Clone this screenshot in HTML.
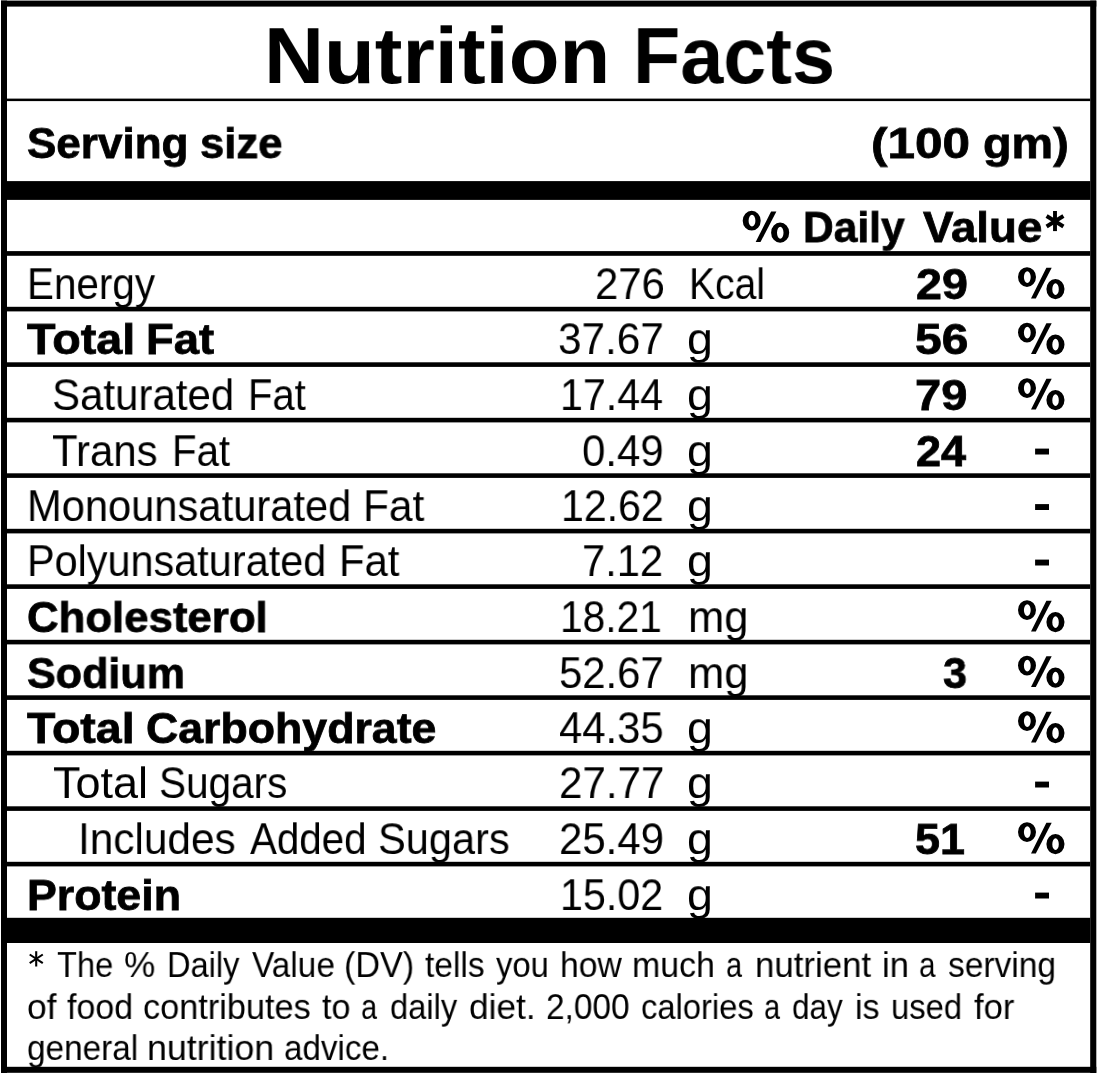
<!DOCTYPE html>
<html><head><meta charset="utf-8"><title>Nutrition Facts</title>
<style>
html,body{margin:0;padding:0;background:#fff;}
body{width:1098px;height:1078px;position:relative;overflow:hidden;}
.t{position:absolute;white-space:pre;line-height:1;font-family:"Liberation Sans",sans-serif;color:#000;transform-origin:0 0;font-weight:normal;-webkit-font-smoothing:antialiased;will-change:transform;}
.b{font-weight:bold;}
svg{position:absolute;left:0;top:0;}
</style></head><body>
<svg width="1098" height="1078" viewBox="0 0 1098 1078" fill="#000">
<rect x="1.00" y="0.60" width="6.00" height="1072.40"/>
<rect x="1090.20" y="0.60" width="6.10" height="1072.40"/>
<rect x="1.00" y="0.60" width="1095.30" height="6.00"/>
<rect x="1.00" y="1066.80" width="1095.30" height="6.00"/>
<rect x="7.00" y="98.60" width="1083.20" height="2.50"/>
<rect x="7.00" y="181.10" width="1083.20" height="18.80"/>
<rect x="7.00" y="251.10" width="1083.20" height="4.70"/>
<rect x="7.00" y="306.80" width="1083.20" height="4.60"/>
<rect x="7.00" y="362.30" width="1083.20" height="4.60"/>
<rect x="7.00" y="417.80" width="1083.20" height="4.60"/>
<rect x="7.00" y="473.30" width="1083.20" height="4.60"/>
<rect x="7.00" y="528.80" width="1083.20" height="4.60"/>
<rect x="7.00" y="584.30" width="1083.20" height="4.60"/>
<rect x="7.00" y="639.80" width="1083.20" height="4.60"/>
<rect x="7.00" y="695.30" width="1083.20" height="4.60"/>
<rect x="7.00" y="750.80" width="1083.20" height="4.60"/>
<rect x="7.00" y="806.30" width="1083.20" height="4.60"/>
<rect x="7.00" y="861.80" width="1083.20" height="4.60"/>
<rect x="7.00" y="917.80" width="1083.20" height="25.20"/>
<rect x="1035.10" y="448.60" width="13.90" height="5.90"/>
<rect x="1035.10" y="504.10" width="13.90" height="5.90"/>
<rect x="1035.10" y="559.60" width="13.90" height="5.90"/>
<rect x="1035.10" y="781.60" width="13.90" height="5.90"/>
<rect x="1035.10" y="892.60" width="13.90" height="5.90"/>
<path fill-rule="evenodd" d="M1018.00 277.10a9.00 9.90 0 1 0 18.00 0a9.00 9.90 0 1 0 -18.00 0ZM1023.90 277.10a3.40 5.90 0 1 0 6.80 0a3.40 5.90 0 1 0 -6.80 0ZM1046.40 289.05a9.05 10.05 0 1 0 18.10 0a9.05 10.05 0 1 0 -18.10 0ZM1052.30 289.15a3.25 5.95 0 1 0 6.50 0a3.25 5.95 0 1 0 -6.50 0Z"/>
<path d="M1031.00 298.50L1035.80 298.50L1051.70 267.80L1046.40 267.80Z"/>
<path fill-rule="evenodd" d="M1018.00 332.60a9.00 9.90 0 1 0 18.00 0a9.00 9.90 0 1 0 -18.00 0ZM1023.90 332.60a3.40 5.90 0 1 0 6.80 0a3.40 5.90 0 1 0 -6.80 0ZM1046.40 344.55a9.05 10.05 0 1 0 18.10 0a9.05 10.05 0 1 0 -18.10 0ZM1052.30 344.65a3.25 5.95 0 1 0 6.50 0a3.25 5.95 0 1 0 -6.50 0Z"/>
<path d="M1031.00 354.00L1035.80 354.00L1051.70 323.30L1046.40 323.30Z"/>
<path fill-rule="evenodd" d="M1018.00 388.10a9.00 9.90 0 1 0 18.00 0a9.00 9.90 0 1 0 -18.00 0ZM1023.90 388.10a3.40 5.90 0 1 0 6.80 0a3.40 5.90 0 1 0 -6.80 0ZM1046.40 400.05a9.05 10.05 0 1 0 18.10 0a9.05 10.05 0 1 0 -18.10 0ZM1052.30 400.15a3.25 5.95 0 1 0 6.50 0a3.25 5.95 0 1 0 -6.50 0Z"/>
<path d="M1031.00 409.50L1035.80 409.50L1051.70 378.80L1046.40 378.80Z"/>
<path fill-rule="evenodd" d="M1018.00 610.10a9.00 9.90 0 1 0 18.00 0a9.00 9.90 0 1 0 -18.00 0ZM1023.90 610.10a3.40 5.90 0 1 0 6.80 0a3.40 5.90 0 1 0 -6.80 0ZM1046.40 622.05a9.05 10.05 0 1 0 18.10 0a9.05 10.05 0 1 0 -18.10 0ZM1052.30 622.15a3.25 5.95 0 1 0 6.50 0a3.25 5.95 0 1 0 -6.50 0Z"/>
<path d="M1031.00 631.50L1035.80 631.50L1051.70 600.80L1046.40 600.80Z"/>
<path fill-rule="evenodd" d="M1018.00 665.60a9.00 9.90 0 1 0 18.00 0a9.00 9.90 0 1 0 -18.00 0ZM1023.90 665.60a3.40 5.90 0 1 0 6.80 0a3.40 5.90 0 1 0 -6.80 0ZM1046.40 677.55a9.05 10.05 0 1 0 18.10 0a9.05 10.05 0 1 0 -18.10 0ZM1052.30 677.65a3.25 5.95 0 1 0 6.50 0a3.25 5.95 0 1 0 -6.50 0Z"/>
<path d="M1031.00 687.00L1035.80 687.00L1051.70 656.30L1046.40 656.30Z"/>
<path fill-rule="evenodd" d="M1018.00 721.10a9.00 9.90 0 1 0 18.00 0a9.00 9.90 0 1 0 -18.00 0ZM1023.90 721.10a3.40 5.90 0 1 0 6.80 0a3.40 5.90 0 1 0 -6.80 0ZM1046.40 733.05a9.05 10.05 0 1 0 18.10 0a9.05 10.05 0 1 0 -18.10 0ZM1052.30 733.15a3.25 5.95 0 1 0 6.50 0a3.25 5.95 0 1 0 -6.50 0Z"/>
<path d="M1031.00 742.50L1035.80 742.50L1051.70 711.80L1046.40 711.80Z"/>
<path fill-rule="evenodd" d="M1018.00 832.10a9.00 9.90 0 1 0 18.00 0a9.00 9.90 0 1 0 -18.00 0ZM1023.90 832.10a3.40 5.90 0 1 0 6.80 0a3.40 5.90 0 1 0 -6.80 0ZM1046.40 844.05a9.05 10.05 0 1 0 18.10 0a9.05 10.05 0 1 0 -18.10 0ZM1052.30 844.15a3.25 5.95 0 1 0 6.50 0a3.25 5.95 0 1 0 -6.50 0Z"/>
<path d="M1031.00 853.50L1035.80 853.50L1051.70 822.80L1046.40 822.80Z"/>
<path fill-rule="evenodd" d="M742.70 220.70a9.00 9.90 0 1 0 18.00 0a9.00 9.90 0 1 0 -18.00 0ZM748.60 220.70a3.40 5.90 0 1 0 6.80 0a3.40 5.90 0 1 0 -6.80 0ZM771.10 232.65a9.05 10.05 0 1 0 18.10 0a9.05 10.05 0 1 0 -18.10 0ZM777.00 232.75a3.25 5.95 0 1 0 6.50 0a3.25 5.95 0 1 0 -6.50 0Z"/>
<path d="M755.70 242.10L760.50 242.10L776.40 211.40L771.10 211.40Z"/>
<line x1="1055.00" y1="211.00" x2="1055.00" y2="231.10" stroke="#000" stroke-width="3.90"/>
<line x1="1046.60" y1="216.00" x2="1063.40" y2="226.50" stroke="#000" stroke-width="3.90"/>
<line x1="1046.60" y1="226.50" x2="1063.40" y2="216.00" stroke="#000" stroke-width="3.90"/>
<line x1="36.20" y1="951.20" x2="36.20" y2="966.50" stroke="#000" stroke-width="2.10"/>
<line x1="29.70" y1="954.50" x2="42.80" y2="963.20" stroke="#000" stroke-width="2.10"/>
<line x1="29.70" y1="963.20" x2="42.80" y2="954.50" stroke="#000" stroke-width="2.10"/>
</svg>
<div class="t b" style="left:263.61px;top:15px;font-size:80.1px;transform-origin:0 68px;transform:scale(1.0377,0.9955)">Nutrition</div>
<div class="t b" style="left:633.07px;top:15px;font-size:80.1px;transform-origin:0 68px;transform:scale(0.9652,0.9955)">Facts</div>
<div class="t b" style="left:26.70px;top:121px;font-size:44.0px;transform-origin:0 37px;transform:scale(1.0006,0.9631);-webkit-text-stroke:0.8px #000">Serving</div>
<div class="t b" style="left:200.11px;top:121px;font-size:44.0px;transform-origin:0 37px;transform:scale(0.9914,0.9631);-webkit-text-stroke:0.8px #000">size</div>
<div class="t b" style="left:870.78px;top:121px;font-size:44.0px;transform-origin:0 37px;transform:scale(1.1244,0.9631);-webkit-text-stroke:0.8px #000">(100</div>
<div class="t b" style="left:983.34px;top:121px;font-size:44.0px;transform-origin:0 37px;transform:scale(1.0628,0.9631);-webkit-text-stroke:0.8px #000">gm)</div>
<div class="t b" style="left:803.47px;top:205px;font-size:44.0px;transform-origin:0 37px;transform:scale(0.9663,0.9631);-webkit-text-stroke:0.8px #000">Daily</div>
<div class="t b" style="left:922.70px;top:205px;font-size:44.0px;transform-origin:0 37px;transform:scale(1.0377,0.9631);-webkit-text-stroke:0.8px #000">Value</div>
<div class="t" style="left:27.10px;top:261px;font-size:45px;transform-origin:0 38px;transform:scale(0.8986,0.9903)">Energy</div>
<div class="t" style="left:594.94px;top:261px;font-size:45px;transform-origin:0 38px;transform:scale(0.9310,0.9903)">276</div>
<div class="t" style="left:688.90px;top:261px;font-size:45px;transform-origin:0 38px;transform:scale(0.8683,0.9903)">Kcal</div>
<div class="t b" style="left:915.54px;top:262px;font-size:44.0px;transform-origin:0 37px;transform:scale(1.0596,0.9631);-webkit-text-stroke:0.8px #000">29</div>
<div class="t b" style="left:26.90px;top:317px;font-size:44.0px;transform-origin:0 37px;transform:scale(1.0616,0.9631);-webkit-text-stroke:0.8px #000">Total</div>
<div class="t b" style="left:146.33px;top:317px;font-size:44.0px;transform-origin:0 37px;transform:scale(1.0328,0.9631);-webkit-text-stroke:0.8px #000">Fat</div>
<div class="t" style="left:558.32px;top:316px;font-size:45px;transform-origin:0 38px;transform:scale(0.9404,0.9903)">37.67</div>
<div class="t" style="left:687.33px;top:316px;font-size:45px;transform-origin:0 38px;transform:scale(1.0350,0.9903)">g</div>
<div class="t b" style="left:914.71px;top:317px;font-size:44.0px;transform-origin:0 37px;transform:scale(1.0894,0.9631);-webkit-text-stroke:0.8px #000">56</div>
<div class="t" style="left:52.33px;top:372px;font-size:45px;transform-origin:0 38px;transform:scale(0.9342,0.9903)">Saturated</div>
<div class="t" style="left:248.23px;top:372px;font-size:45px;transform-origin:0 38px;transform:scale(0.8887,0.9903)">Fat</div>
<div class="t" style="left:560.15px;top:372px;font-size:45px;transform-origin:0 38px;transform:scale(0.9156,0.9903)">17.44</div>
<div class="t" style="left:687.33px;top:372px;font-size:45px;transform-origin:0 38px;transform:scale(1.0350,0.9903)">g</div>
<div class="t b" style="left:915.13px;top:373px;font-size:44.0px;transform-origin:0 37px;transform:scale(1.0702,0.9631);-webkit-text-stroke:0.8px #000">79</div>
<div class="t" style="left:52.17px;top:428px;font-size:45px;transform-origin:0 38px;transform:scale(0.9324,0.9903)">Trans</div>
<div class="t" style="left:171.72px;top:428px;font-size:45px;transform-origin:0 38px;transform:scale(0.8935,0.9903)">Fat</div>
<div class="t" style="left:582.17px;top:428px;font-size:45px;transform-origin:0 38px;transform:scale(0.9329,0.9903)">0.49</div>
<div class="t" style="left:687.33px;top:428px;font-size:45px;transform-origin:0 38px;transform:scale(1.0350,0.9903)">g</div>
<div class="t b" style="left:915.78px;top:429px;font-size:44.0px;transform-origin:0 37px;transform:scale(1.0245,0.9631);-webkit-text-stroke:0.8px #000">24</div>
<div class="t" style="left:26.82px;top:483px;font-size:45px;transform-origin:0 38px;transform:scale(0.9258,0.9903)">Monounsaturated</div>
<div class="t" style="left:363.37px;top:483px;font-size:45px;transform-origin:0 38px;transform:scale(0.9435,0.9903)">Fat</div>
<div class="t" style="left:560.56px;top:483px;font-size:45px;transform-origin:0 38px;transform:scale(0.9130,0.9903)">12.62</div>
<div class="t" style="left:687.33px;top:483px;font-size:45px;transform-origin:0 38px;transform:scale(1.0350,0.9903)">g</div>
<div class="t" style="left:27.04px;top:538px;font-size:45px;transform-origin:0 38px;transform:scale(0.9200,0.9903)">Polyunsaturated</div>
<div class="t" style="left:338.51px;top:538px;font-size:45px;transform-origin:0 38px;transform:scale(0.9290,0.9903)">Fat</div>
<div class="t" style="left:582.25px;top:538px;font-size:45px;transform-origin:0 38px;transform:scale(0.9262,0.9903)">7.12</div>
<div class="t" style="left:687.33px;top:538px;font-size:45px;transform-origin:0 38px;transform:scale(1.0350,0.9903)">g</div>
<div class="t b" style="left:27.21px;top:595px;font-size:44.0px;transform-origin:0 37px;transform:scale(0.9946,0.9631);-webkit-text-stroke:0.8px #000">Cholesterol</div>
<div class="t" style="left:560.49px;top:594px;font-size:45px;transform-origin:0 38px;transform:scale(0.9046,0.9903)">18.21</div>
<div class="t" style="left:687.80px;top:594px;font-size:45px;transform-origin:0 38px;transform:scale(0.9667,0.9903)">mg</div>
<div class="t b" style="left:27.22px;top:651px;font-size:44.0px;transform-origin:0 37px;transform:scale(0.9792,0.9631);-webkit-text-stroke:0.8px #000">Sodium</div>
<div class="t" style="left:559.24px;top:650px;font-size:45px;transform-origin:0 38px;transform:scale(0.9303,0.9903)">52.67</div>
<div class="t" style="left:687.80px;top:650px;font-size:45px;transform-origin:0 38px;transform:scale(0.9667,0.9903)">mg</div>
<div class="t b" style="left:942.80px;top:651px;font-size:44.0px;transform-origin:0 37px;transform:scale(0.9792,0.9631);-webkit-text-stroke:0.8px #000">3</div>
<div class="t b" style="left:27.10px;top:706px;font-size:44.0px;transform-origin:0 37px;transform:scale(1.0556,0.9631);-webkit-text-stroke:0.8px #000">Total</div>
<div class="t b" style="left:146.48px;top:706px;font-size:44.0px;transform-origin:0 37px;transform:scale(1.0151,0.9631);-webkit-text-stroke:0.8px #000">Carbohydrate</div>
<div class="t" style="left:558.77px;top:705px;font-size:45px;transform-origin:0 38px;transform:scale(0.9300,0.9903)">44.35</div>
<div class="t" style="left:687.33px;top:705px;font-size:45px;transform-origin:0 38px;transform:scale(1.0350,0.9903)">g</div>
<div class="t" style="left:53.20px;top:760px;font-size:45px;transform-origin:0 38px;transform:scale(1.0000,0.9903)">Total</div>
<div class="t" style="left:159.40px;top:760px;font-size:45px;transform-origin:0 38px;transform:scale(0.9007,0.9903)">Sugars</div>
<div class="t" style="left:558.93px;top:760px;font-size:45px;transform-origin:0 38px;transform:scale(0.9367,0.9903)">27.77</div>
<div class="t" style="left:687.33px;top:760px;font-size:45px;transform-origin:0 38px;transform:scale(1.0350,0.9903)">g</div>
<div class="t" style="left:77.73px;top:816px;font-size:45px;transform-origin:0 38px;transform:scale(0.9414,0.9903)">Includes</div>
<div class="t" style="left:250.00px;top:816px;font-size:45px;transform-origin:0 38px;transform:scale(0.8961,0.9903)">Added</div>
<div class="t" style="left:377.85px;top:816px;font-size:45px;transform-origin:0 38px;transform:scale(0.9245,0.9903)">Sugars</div>
<div class="t" style="left:558.93px;top:816px;font-size:45px;transform-origin:0 38px;transform:scale(0.9330,0.9903)">25.49</div>
<div class="t" style="left:687.33px;top:816px;font-size:45px;transform-origin:0 38px;transform:scale(1.0350,0.9903)">g</div>
<div class="t b" style="left:915.08px;top:817px;font-size:44.0px;transform-origin:0 37px;transform:scale(1.0208,0.9631);-webkit-text-stroke:0.8px #000">51</div>
<div class="t b" style="left:27.07px;top:873px;font-size:44.0px;transform-origin:0 37px;transform:scale(1.0155,0.9631);-webkit-text-stroke:0.8px #000">Protein</div>
<div class="t" style="left:560.45px;top:872px;font-size:45px;transform-origin:0 38px;transform:scale(0.9167,0.9903)">15.02</div>
<div class="t" style="left:687.33px;top:872px;font-size:45px;transform-origin:0 38px;transform:scale(1.0350,0.9903)">g</div>
<div class="t" style="left:57.00px;top:947px;font-size:36px;transform-origin:0 30px;transform:scale(0.9066,0.9577)">The</div>
<div class="t" style="left:123.62px;top:947px;font-size:36px;transform-origin:0 30px;transform:scale(0.9767,0.9577)">%</div>
<div class="t" style="left:167.39px;top:947px;font-size:36px;transform-origin:0 30px;transform:scale(0.9051,0.9577)">Daily</div>
<div class="t" style="left:251.70px;top:947px;font-size:36px;transform-origin:0 30px;transform:scale(0.9273,0.9577)">Value</div>
<div class="t" style="left:344.10px;top:947px;font-size:36px;transform-origin:0 30px;transform:scale(0.9486,0.9577)">(DV)</div>
<div class="t" style="left:425.10px;top:947px;font-size:36px;transform-origin:0 30px;transform:scale(0.9317,0.9577)">tells</div>
<div class="t" style="left:496.40px;top:947px;font-size:36px;transform-origin:0 30px;transform:scale(0.9107,0.9577)">you</div>
<div class="t" style="left:559.53px;top:947px;font-size:36px;transform-origin:0 30px;transform:scale(0.9359,0.9577)">how</div>
<div class="t" style="left:632.22px;top:947px;font-size:36px;transform-origin:0 30px;transform:scale(0.9417,0.9577)">much</div>
<div class="t" style="left:726.39px;top:947px;font-size:36px;transform-origin:0 30px;transform:scale(0.8053,0.9577)">a</div>
<div class="t" style="left:754.56px;top:947px;font-size:36px;transform-origin:0 30px;transform:scale(0.9678,0.9577)">nutrient</div>
<div class="t" style="left:881.78px;top:947px;font-size:36px;transform-origin:0 30px;transform:scale(0.9625,0.9577)">in</div>
<div class="t" style="left:918.87px;top:947px;font-size:36px;transform-origin:0 30px;transform:scale(0.8263,0.9577)">a</div>
<div class="t" style="left:947.97px;top:947px;font-size:36px;transform-origin:0 30px;transform:scale(0.9310,0.9577)">serving</div>
<div class="t" style="left:27.22px;top:989px;font-size:36px;transform-origin:0 30px;transform:scale(0.9833,0.9577)">of</div>
<div class="t" style="left:66.70px;top:989px;font-size:36px;transform-origin:0 30px;transform:scale(0.9441,0.9577)">food</div>
<div class="t" style="left:143.05px;top:989px;font-size:36px;transform-origin:0 30px;transform:scale(0.9529,0.9577)">contributes</div>
<div class="t" style="left:321.80px;top:989px;font-size:36px;transform-origin:0 30px;transform:scale(0.9483,0.9577)">to</div>
<div class="t" style="left:360.79px;top:989px;font-size:36px;transform-origin:0 30px;transform:scale(0.8053,0.9577)">a</div>
<div class="t" style="left:389.79px;top:989px;font-size:36px;transform-origin:0 30px;transform:scale(0.9082,0.9577)">daily</div>
<div class="t" style="left:468.82px;top:989px;font-size:36px;transform-origin:0 30px;transform:scale(0.9797,0.9577)">diet.</div>
<div class="t" style="left:546.07px;top:989px;font-size:36px;transform-origin:0 30px;transform:scale(0.9284,0.9577)">2,000</div>
<div class="t" style="left:640.59px;top:989px;font-size:36px;transform-origin:0 30px;transform:scale(0.9090,0.9577)">calories</div>
<div class="t" style="left:764.39px;top:989px;font-size:36px;transform-origin:0 30px;transform:scale(0.8053,0.9577)">a</div>
<div class="t" style="left:792.33px;top:989px;font-size:36px;transform-origin:0 30px;transform:scale(0.8737,0.9577)">day</div>
<div class="t" style="left:855.11px;top:989px;font-size:36px;transform-origin:0 30px;transform:scale(0.9435,0.9577)">is</div>
<div class="t" style="left:890.98px;top:989px;font-size:36px;transform-origin:0 30px;transform:scale(0.9108,0.9577)">used</div>
<div class="t" style="left:973.50px;top:989px;font-size:36px;transform-origin:0 30px;transform:scale(0.9619,0.9577)">for</div>
<div class="t" style="left:26.67px;top:1030px;font-size:36px;transform-origin:0 30px;transform:scale(0.9265,0.9577)">general</div>
<div class="t" style="left:146.81px;top:1030px;font-size:36px;transform-origin:0 30px;transform:scale(0.9935,0.9577)">nutrition</div>
<div class="t" style="left:283.88px;top:1030px;font-size:36px;transform-origin:0 30px;transform:scale(0.9218,0.9577)">advice.</div>
</body></html>
